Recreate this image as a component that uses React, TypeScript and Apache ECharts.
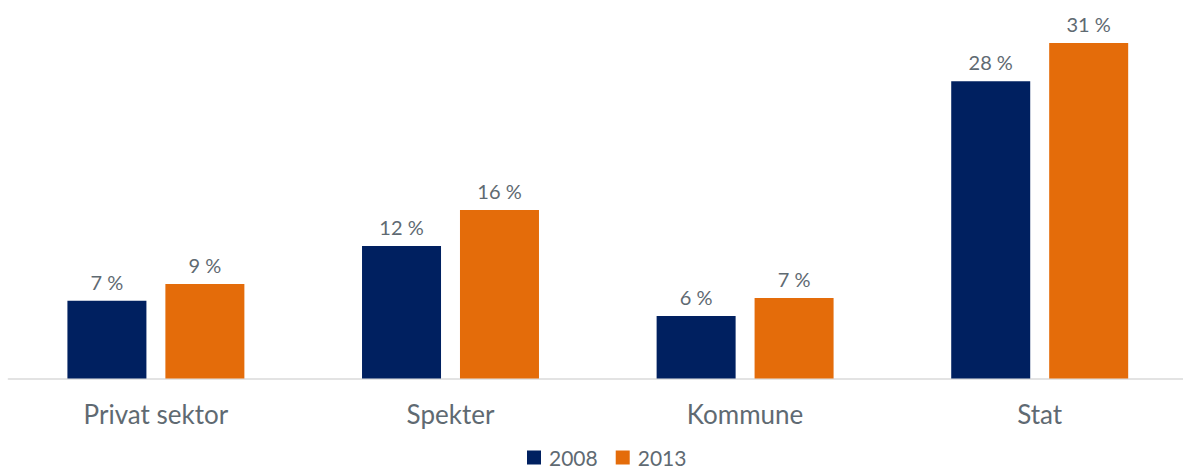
import React, { useEffect, useRef } from "react";
import * as echarts from "echarts";

const categories = ["Privat sektor", "Spekter", "Kommune", "Stat"];
const seriesNames = ["2008", "2013"];
const values2008 = [7.24, 12.33, 5.81, 27.65];
const values2013 = [8.79, 15.67, 7.49, 31.21];
const colors = ["#002060", "#E46C0A"];

const FONT = "Lato, 'Noto Sans', sans-serif";
const TEXT_COLOR = "#5F6A72";

export default function App() {
  const ref = useRef<HTMLDivElement>(null);
  useEffect(() => {
    if (!ref.current) return;
    const chart = echarts.init(ref.current, undefined, { renderer: "svg" });
    const label = {
      show: true,
      position: "top" as const,
      distance: 9,
      color: TEXT_COLOR,
      fontFamily: FONT,
      fontSize: 20,
      formatter: (p: any) => Math.round(p.value) + " %",
    };
    chart.setOption({
      animation: false,
      textStyle: { fontFamily: FONT },
      grid: { left: 8.6, right: 0, top: 2.25, bottom: 90.5, containLabel: false },
      legend: {
        left: 522,
        top: 442,
        itemWidth: 14,
        itemHeight: 14,
        itemGap: 18,
        icon: "rect",
        textStyle: { color: TEXT_COLOR, fontFamily: FONT, fontSize: 21, padding: [0, 0, 0, 3] },
        data: seriesNames,
      },
      xAxis: {
        type: "category",
        data: categories,
        axisLine: { show: true, lineStyle: { color: "#E3E3E3", width: 2 } },
        axisTick: { show: false },
        axisLabel: { color: TEXT_COLOR, fontFamily: FONT, fontSize: 26, margin: 22 },
      },
      yAxis: {
        type: "value",
        min: 0,
        max: 35,
        show: false,
        splitLine: { show: false },
      },
      series: [
        {
          name: seriesNames[0],
          type: "bar",
          data: values2008,
          barWidth: 79,
          barGap: "24%",
          itemStyle: { color: colors[0] },
          label,
        },
        {
          name: seriesNames[1],
          type: "bar",
          data: values2013,
          barWidth: 79,
          barGap: "24%",
          itemStyle: { color: colors[1] },
          label,
        },
      ],
    });
    return () => chart.dispose();
  }, []);
  return (
    <div
      style={{ position: "absolute", left: 0, top: 0, width: 1183, height: 469, overflow: "hidden", background: "#fff" }}
    >
      <div ref={ref} style={{ width: 1187.3, height: 469 }} />
    </div>
  );
}
